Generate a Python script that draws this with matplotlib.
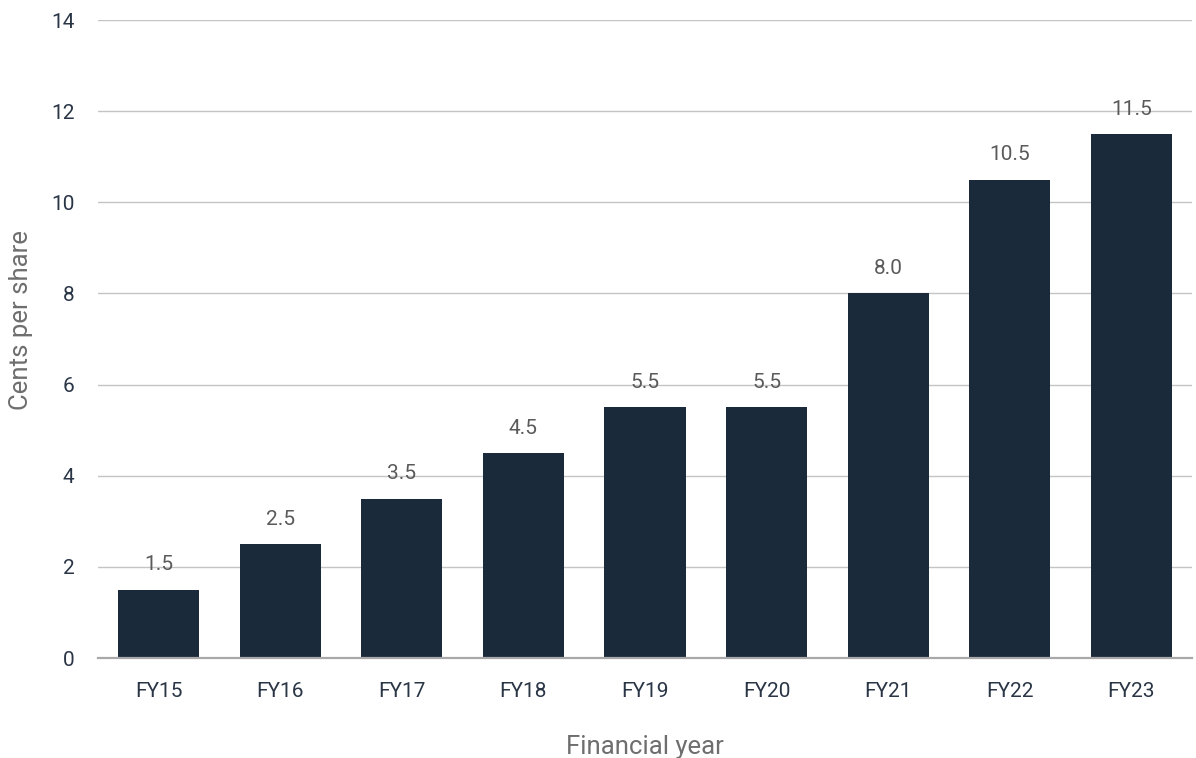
import matplotlib
matplotlib.use("Agg")
import matplotlib.pyplot as plt

categories = ["FY15", "FY16", "FY17", "FY18", "FY19", "FY20", "FY21", "FY22", "FY23"]
values = [1.5, 2.5, 3.5, 4.5, 5.5, 5.5, 8.0, 10.5, 11.5]
yticks = [0, 2, 4, 6, 8, 10, 12, 14]

plt.rcParams['font.family'] = ['Roboto', 'DejaVu Sans']

fig = plt.figure(figsize=(11.96, 7.58), dpi=100)
ax = fig.add_axes([0.0819, 0.1319, 0.9148, 0.8417])

x = range(len(categories))
ax.bar(x, values, width=0.667, color="#1b2a3a", zorder=3)

for i, v in zip(x, values):
    ax.annotate(f"{v:.1f}", (i, v), xytext=(0, 11), textcoords="offset points",
                ha="center", va="bottom", fontsize=15, color="#5a5a5a",
                fontweight="normal", zorder=4)

ax.set_xlim(-0.5, len(categories) - 0.5)
ax.set_ylim(0, 14)
ax.set_yticks(yticks)
ax.set_yticklabels([str(t) for t in yticks])
ax.set_xticks(list(x))
ax.set_xticklabels(categories)

ax.yaxis.grid(True, color="#c4c4c4", linewidth=1.0, zorder=0)
ax.set_axisbelow(True)
for s in ["top", "right", "left"]:
    ax.spines[s].set_visible(False)
ax.spines["bottom"].set_color("#a8a8a8")
ax.spines["bottom"].set_linewidth(1.6)
ax.spines["bottom"].set_zorder(5)

ax.tick_params(axis="both", length=0, labelsize=15, labelcolor="#2a3546")
ax.tick_params(axis="y", pad=17)
ax.tick_params(axis="x", pad=17)

ax.set_xlabel("Financial year", fontsize=18.5, color="#6e6e6e", labelpad=25)
ax.set_ylabel("Cents per share", fontsize=18.5, color="#6e6e6e", labelpad=14)
ax.yaxis.set_label_coords(-0.059, 0.53)

fig.savefig("out.png", dpi=100)
